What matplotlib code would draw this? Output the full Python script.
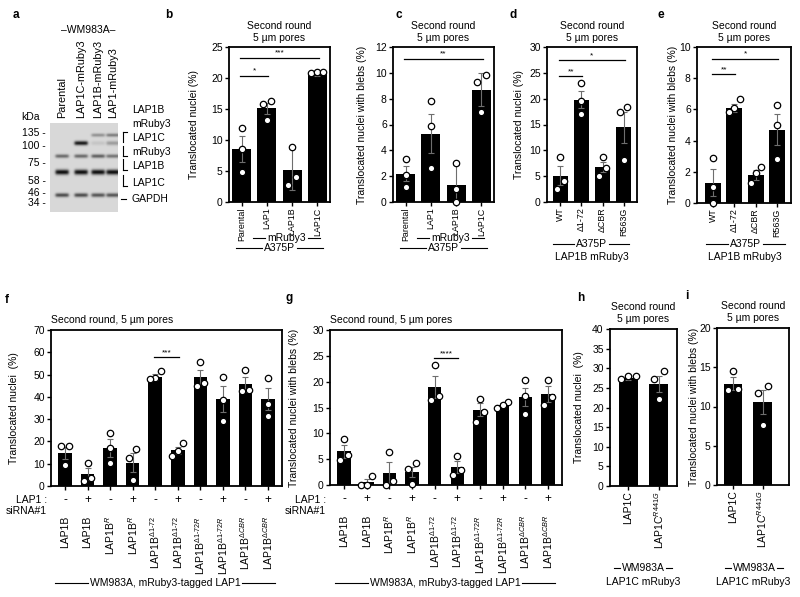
import numpy as np
import matplotlib
matplotlib.use("Agg")
import matplotlib.pyplot as plt
import matplotlib.transforms as mtransforms
from matplotlib.lines import Line2D

plt.rcParams['font.family'] = ['Liberation Sans', 'DejaVu Sans']
plt.rcParams['mathtext.fontset'] = 'custom'
plt.rcParams['mathtext.rm'] = 'Liberation Sans'
plt.rcParams['mathtext.it'] = 'Liberation Sans:italic'
plt.rcParams['mathtext.bf'] = 'Liberation Sans:bold'

# -------------------------------------------------------------------
# Data
# -------------------------------------------------------------------
# a: western blot
blot_lanes = ["Parental", "LAP1C-mRuby3", "LAP1B-mRuby3", "LAP1-mRuby3"]
kda_marks = ["135", "100", "75", "58", "46", "34"]
kda_y = [133, 146, 163, 181, 193, 203]
band_y = [135, 143, 156, 172, 195]
band_int = [[0.0, 0.0, 0.35, 0.45],
            [0.0, 0.95, 0.10, 0.30],
            [0.55, 0.55, 0.60, 0.50],
            [1.0, 1.0, 1.0, 1.0],
            [0.70, 0.70, 0.65, 0.65]]

# b
b_labels = ["Parental", "LAP1", "LAP1B", "LAP1C"]
b_means = [8.5, 15.1, 5.2, 20.6]
b_errs = [2.1, 0.9, 3.3, 0.2]
b_points = [[12.0, 8.6, 4.8], [16.3, 15.8, 13.2], [8.9, 4.0, 2.7], [20.8, 20.9, 21.0]]
b_sig = [(0, 1, 20.4, "*"), (0, 3, 23.3, "***")]

# c
c_labels = ["Parental", "LAP1", "LAP1B", "LAP1C"]
c_means = [2.2, 5.3, 1.3, 8.7]
c_errs = [0.6, 1.5, 1.6, 1.3]
c_points = [[3.3, 2.1, 1.2], [7.8, 5.9, 2.6], [3.0, 1.0, 0.0], [9.8, 9.3, 7.0]]
c_sig = [(0, 3, 11.1, "**")]

# d
d_labels = ["WT", "Δ1-72", "ΔCBR", "R563G"]
d_means = [5.1, 19.8, 6.8, 14.5]
d_errs = [1.9, 1.6, 1.0, 3.0]
d_points = [[8.7, 4.1, 2.6], [23.0, 19.5, 17.0], [8.8, 6.6, 5.1], [18.3, 17.4, 8.2]]
d_sig = [(0, 1, 24.4, "**"), (0, 3, 27.4, "*")]

# e
e_labels = ["WT", "Δ1-72", "ΔCBR", "R563G"]
e_means = [1.3, 6.1, 1.8, 4.7]
e_errs = [0.85, 0.25, 0.3, 1.0]
e_points = [[2.9, 1.0, 0.0], [6.65, 6.1, 5.85], [2.3, 1.95, 1.3], [6.25, 5.0, 2.8]]
e_sig = [(0, 1, 8.26, "**"), (0, 3, 9.26, "*")]

# f / g
fg_labels = ["LAP1B", "LAP1B", r"LAP1B$^{R}$", r"LAP1B$^{R}$",
             r"LAP1B$^{\Delta1‐72}$", r"LAP1B$^{\Delta1‐72}$",
             r"LAP1B$^{\Delta1‐72R}$", r"LAP1B$^{\Delta1‐72R}$",
             r"LAP1B$^{\Delta CBR}$", r"LAP1B$^{\Delta CBR}$"]
fg_sirna = ["-", "+", "-", "+", "-", "+", "-", "+", "-", "+"]

f_means = [14.9, 5.5, 17.0, 10.5, 49.0, 16.0, 48.8, 39.0, 45.6, 38.9]
f_errs = [2.8, 2.7, 4.0, 4.3, 1.3, 1.5, 3.2, 5.7, 3.2, 5.0]
f_points = [[17.8, 17.8, 9.3], [10.5, 3.7, 2.2], [23.6, 17.2, 10.2], [16.4, 12.7, 2.8],
            [51.8, 48.3, 47.8], [19.3, 15.6, 13.3], [55.5, 46.0, 45.0], [49.0, 38.5, 29.0],
            [52.0, 43.0, 42.5], [48.3, 37.0, 31.5]]
f_sig = [(4, 5, 57.7, "***")]

g_means = [6.5, 0.6, 2.4, 2.5, 19.0, 3.5, 14.6, 15.5, 17.0, 17.6]
g_errs = [1.2, 0.6, 2.1, 1.0, 2.1, 1.1, 1.3, 0.3, 1.8, 1.5]
g_points = [[9.0, 5.8, 4.8], [1.8, 0.0, 0.0], [6.4, 0.8, 0.0], [4.2, 3.1, 0.2],
            [23.2, 17.3, 16.5], [5.6, 3.0, 2.0], [16.7, 14.2, 12.1], [16.1, 15.4, 15.0],
            [20.3, 17.2, 13.8], [20.3, 17.0, 15.5]]
g_sig = [(4, 5, 24.5, "****")]

# h / i
hi_labels = ["LAP1C", r"LAP1C$^{R441G}$"]
h_means = [27.5, 26.0]
h_errs = [0.4, 2.0]
h_points = [[27.2, 28.1, 28.1], [29.2, 27.2, 22.1]]
i_means = [12.9, 10.6]
i_errs = [0.8, 1.5]
i_points = [[14.55, 12.1, 12.2], [12.55, 11.7, 7.6]]

# -------------------------------------------------------------------
# Helpers
# -------------------------------------------------------------------
W, H = 800, 597
fig = plt.figure(figsize=(8, 5.97), dpi=100)
renderer = fig.canvas.get_renderer()
FS = 7.5
XFS = 6.4   # x tick labels of b-e


def px(x):
    return x / W


def py(y):
    return 1 - y / H


def make_ax(l, t, r, b):
    ax = fig.add_axes([px(l), py(b), (r - l) / W, (b - t) / H])
    ax.box_px = (l, t, r, b)
    return ax


def spread(vals, ymax):
    v = np.asarray(vals, float)
    order = np.argsort(v)
    s = v[order]
    d = 0.07 * ymax
    c01 = s[1] - s[0] < d
    c12 = s[2] - s[1] < d
    if c01 and c12:
        o = [-0.24, 0.0, 0.24]
    elif c01:
        o = [-0.17, 0.17, 0.0]
    elif c12:
        o = [0.0, -0.17, 0.17]
    else:
        o = [0.0, 0.0, 0.0]
    offs = np.zeros(len(v))
    offs[order] = o
    return offs


def bar_panel(ax, labels, means, errs, points, ymax, ystep, ylabel, label_right,
              xlim, width=0.72, sig=(), tick_pad=1.0, xfs=FS):
    l, t, r, b = ax.box_px
    x = np.arange(len(means))
    ax.bar(x, means, width=width, color="black", zorder=2)
    ax.errorbar(x, means, yerr=errs, fmt="none", ecolor="#6e6e6e",
                elinewidth=0.8, capsize=2, capthick=0.8, zorder=3)
    for xi, pts in zip(x, points):
        ax.plot(xi + spread(pts, ymax), pts, "o", ms=4.6, mfc="white",
                mec="black", mew=0.9, zorder=4, clip_on=False)
    for i, j, y, s in sig:
        ax.plot([i - 0.05, j + 0.05], [y, y], color="black", lw=0.9)
        ax.text((i + j) / 2, y + 0.005 * ymax, s, ha="center", va="bottom", fontsize=6)
    ax.set_ylim(0, ymax)
    ax.set_yticks(np.arange(0, ymax + 1e-6, ystep))
    ax.set_xlim(*xlim)
    ax.set_xticks(x)
    ax.set_xticklabels(labels, rotation=90, fontsize=xfs)
    ax.tick_params(axis="y", labelsize=FS, length=3, width=1, pad=1.5)
    ax.tick_params(axis="x", length=3, width=1, pad=tick_pad)
    for sp in ax.spines.values():
        sp.set_linewidth(1.3)
    ax.set_ylabel(ylabel, fontsize=FS)
    ax.yaxis.set_label_coords(-(l - label_right) / (r - l), 0.5)


def under_text(x1, x2, y, text, fs=FS):
    t = fig.text(px((x1 + x2) / 2), py(y), text, ha="center", va="center", fontsize=fs)
    bb = t.get_window_extent(renderer)
    fig.add_artist(Line2D([px(x1), px(bb.x0 - 2)], [py(y), py(y)], color="black", lw=0.8))
    fig.add_artist(Line2D([px(bb.x1 + 2), px(x2)], [py(y), py(y)], color="black", lw=0.8))


def panel_label(x, y, s):
    fig.text(px(x), py(y), s, ha="left", va="center", fontsize=8.5, fontweight="bold")


# -------------------------------------------------------------------
# a: western blot
# -------------------------------------------------------------------
ax_a = make_ax(50, 123, 118, 212)
lane_x = [62, 81, 98, 113]
yy, xx = np.mgrid[123:212:0.25, 50:118:0.25]
img = np.zeros_like(yy)
band_w = [1.2, 1.5, 1.3, 1.8, 1.4]
for by, ints, sw in zip(band_y, band_int, band_w):
    for lx, a in zip(lane_x, ints):
        img += a * np.exp(-0.5 * ((yy - by) / sw) ** 2) / (1 + np.exp((np.abs(xx - lx) - 6.5) / 0.7))
img = np.clip(img, 0, 1)
ax_a.imshow(0.85 - 0.8 * img, cmap="gray", vmin=0, vmax=1,
            extent=(50, 118, 212, 123), aspect="auto", interpolation="bilinear")
ax_a.set_xlim(50, 118)
ax_a.set_ylim(212, 123)
ax_a.axis("off")

for lx, name in zip(lane_x, blot_lanes):
    fig.text(px(lx), py(118), name, rotation=90, ha="center", va="bottom", fontsize=7.8)
fig.text(px(88), py(30), "–WM983A–", ha="center", va="center", fontsize=FS)
fig.text(px(30), py(117), "kDa", ha="center", va="center", fontsize=FS)
for k, ky in zip(kda_marks, kda_y):
    fig.text(px(46), py(ky), k + " -", ha="right", va="center", fontsize=FS)

right_labels = [("LAP1B", 110), ("mRuby3", 124), ("LAP1C", 138), ("mRuby3", 152),
                ("LAP1B", 166), ("LAP1C", 183), ("GAPDH", 199)]
for s, ly in right_labels:
    fig.text(px(132), py(ly), s, ha="left", va="center", fontsize=FS)
# brackets
for y1, y2, top_tick in [(132, 142, True), (146, 156, False), (159, 170, False), (175, 186, False)]:
    fig.add_artist(Line2D([px(123), px(123)], [py(y1), py(y2)], color="black", lw=0.8))
    ty = y1 if top_tick else y2
    fig.add_artist(Line2D([px(123), px(127)], [py(ty), py(ty)], color="black", lw=0.8))
fig.add_artist(Line2D([px(121), px(126)], [py(199), py(199)], color="black", lw=0.8))

# -------------------------------------------------------------------
# b - e
# -------------------------------------------------------------------
title2 = "Second round\n5 µm pores"

ax_b = make_ax(229, 47, 330, 202)
bar_panel(ax_b, b_labels, b_means, b_errs, b_points, 25, 5, "Translocated nuclei (%)",
          199, (-0.5, 3.5), width=0.75, sig=b_sig, xfs=XFS)
ax_b.set_title(title2, fontsize=FS, pad=4, linespacing=1.3)

ax_c = make_ax(393, 47, 494, 202)
bar_panel(ax_c, c_labels, c_means, c_errs, c_points, 12, 2, "Translocated nuclei with blebs (%)",
          367, (-0.5, 3.5), width=0.75, sig=c_sig, xfs=XFS)
ax_c.set_title(title2, fontsize=FS, pad=4, linespacing=1.3)

ax_d = make_ax(547, 47, 637, 202)
bar_panel(ax_d, d_labels, d_means, d_errs, d_points, 30, 5, "Translocated nuclei (%)",
          524, (-0.62, 3.62), width=0.7, sig=d_sig, xfs=XFS)
ax_d.set_title(title2, fontsize=FS, pad=4, linespacing=1.3)

ax_e = make_ax(697, 47, 791, 203)
bar_panel(ax_e, e_labels, e_means, e_errs, e_points, 10, 2, "Translocated nuclei with blebs (%)",
          678, (-0.75, 3.65), width=0.75, sig=e_sig, xfs=XFS)
ax_e.set_title(title2, fontsize=FS, pad=4, linespacing=1.3)

under_text(253, 320, 238, "mRuby3")
under_text(236, 323, 248, "A375P")
under_text(417, 484, 238, "mRuby3")
under_text(400, 487, 248, "A375P")
under_text(553, 629, 244, "A375P")
fig.text(px(592), py(257), "LAP1B mRuby3", ha="center", va="center", fontsize=FS)
under_text(706, 785, 244, "A375P")
fig.text(px(745), py(257), "LAP1B mRuby3", ha="center", va="center", fontsize=FS)

# -------------------------------------------------------------------
# f, g
# -------------------------------------------------------------------
title1 = "Second round, 5 µm pores"
for box, means, errs, pts, ymax, ystep, ylab, lr, sig, lap_x in [
        ((51, 330, 282, 486), f_means, f_errs, f_points, 70, 10, "Translocated nuclei  (%)", 19, f_sig, 47),
        ((330, 330, 562, 485), g_means, g_errs, g_points, 30, 5, "Translocated nuclei with blebs (%)", 299, g_sig, 326)]:
    ax = make_ax(*box)
    bar_panel(ax, fg_labels, means, errs, pts, ymax, ystep, ylab, lr, (-0.62, 9.62),
              width=0.6, sig=sig, tick_pad=18.5)
    ax.set_title(title1, fontsize=FS, loc="left", pad=5)
    trans = mtransforms.blended_transform_factory(ax.transData, ax.transAxes)
    hpx = box[3] - box[1]
    for xi, s in enumerate(fg_sirna):
        ax.text(xi, -14 / hpx, s, transform=trans, ha="center", va="center", fontsize=8.5)
    fig.text(px(lap_x), py(500), "LAP1 :", ha="right", va="center", fontsize=FS)
    fig.text(px(lap_x), py(511), "siRNA#1", ha="right", va="center", fontsize=FS)

under_text(55, 275, 583, "WM983A, mRuby3-tagged LAP1")
under_text(335, 555, 583, "WM983A, mRuby3-tagged LAP1")

# -------------------------------------------------------------------
# h, i
# -------------------------------------------------------------------
ax_h = make_ax(610, 329, 677, 486)
bar_panel(ax_h, hi_labels, h_means, h_errs, h_points, 40, 5, "Translocated nuclei  (%)",
          584, (-0.6, 1.6), width=0.63)
ax_h.set_title(title2, fontsize=FS, pad=5, linespacing=1.3)

ax_i = make_ax(717, 328, 789, 485)
bar_panel(ax_i, hi_labels, i_means, i_errs, i_points, 20, 5, "Translocated nuclei with blebs (%)",
          699, (-0.55, 1.9), width=0.63)
ax_i.set_title(title2, fontsize=FS, pad=5, linespacing=1.3)

under_text(614, 672, 568, "WM983A")
fig.text(px(643), py(582), "LAP1C mRuby3", ha="center", va="center", fontsize=FS)
under_text(725, 783, 568, "WM983A")
fig.text(px(753), py(582), "LAP1C mRuby3", ha="center", va="center", fontsize=FS)

# panel letters
for s, x, y in [("a", 13, 15), ("b", 165, 15), ("c", 395, 15), ("d", 509, 15), ("e", 657, 15),
                ("f", 5, 300), ("g", 285, 298), ("h", 577, 298), ("i", 685, 296)]:
    panel_label(x, y, s)

fig.savefig("out.png", dpi=100)
